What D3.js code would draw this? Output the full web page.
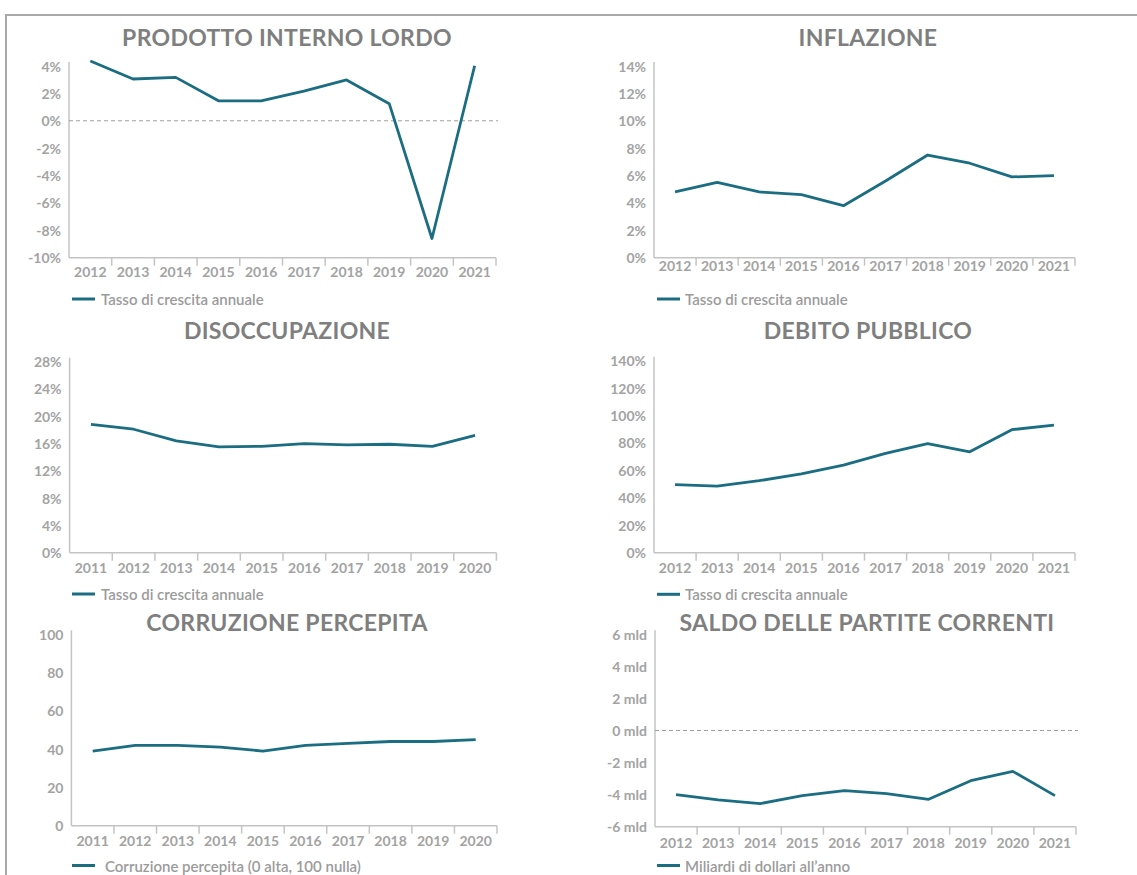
<!DOCTYPE html>
<html>
<head>
<meta charset="utf-8">
<script src="https://cdn.jsdelivr.net/npm/d3@7"></script>
<style>
  body { margin: 0; background: #fff; }
  text { font-family: Lato, "Open Sans", sans-serif; }
</style>
</head>
<body>
<svg id="chart"></svg>
<script>
// years on the x axis
var years12 = ["2012", "2013", "2014", "2015", "2016", "2017", "2018", "2019", "2020", "2021"];
var years11 = ["2011", "2012", "2013", "2014", "2015", "2016", "2017", "2018", "2019", "2020"];

// values
var pilValues    = [4.37, 3.05, 3.17, 1.46, 1.46, 2.17, 2.98, 1.25, -8.6, 4.02];
var inflValues   = [4.8, 5.5, 4.8, 4.6, 3.8, 5.6, 7.5, 6.9, 5.9, 6.0];
var disocValues  = [18.8, 18.1, 16.4, 15.5, 15.6, 16.0, 15.8, 15.9, 15.6, 17.2];
var debitoValues = [49.6, 48.6, 52.5, 57.4, 63.9, 72.4, 79.5, 73.6, 89.7, 93.1];
var corrValues   = [39, 42, 42, 41, 39, 42, 43, 44, 44, 45];
var saldoValues  = [-4.0, -4.33, -4.56, -4.06, -3.75, -3.94, -4.29, -3.13, -2.55, -4.06];

// tick values
var pilTicks    = [4, 2, 0, -2, -4, -6, -8, -10];
var inflTicks   = [14, 12, 10, 8, 6, 4, 2, 0];
var disocTicks  = [28, 24, 20, 16, 12, 8, 4, 0];
var debitoTicks = [140, 120, 100, 80, 60, 40, 20, 0];
var corrTicks   = [100, 80, 60, 40, 20, 0];
var saldoTicks  = [6, 4, 2, 0, -2, -4, -6];

var legendGrowth = "Tasso di crescita annuale";

var width = 1137, height = 875;
var lineColor = "#1b6d82";
var titleColor = "#7f7f7f";
var labelColor = "#a3a3a3";
var axisColor = "#c4c4c4";

var svg = d3.select("#chart")
    .attr("width", width)
    .attr("height", height);

// outer frame (top + left edges)
svg.append("path")
    .attr("d", `M6,${height} V15 H${width}`)
    .attr("fill", "none")
    .attr("stroke", "#a9a9a9")
    .attr("stroke-width", 2);

var pct = d => d + "%";
var mld = d => d + " mld";
var plain = d => d;

function panel(p) {
    var g = svg.append("g");

    var x = d3.scaleBand().domain(p.years).range([p.x0, p.x1]);
    var y = d3.scaleLinear()
        .domain([d3.min(p.ticks), d3.max(p.ticks)])
        .range([p.y1, p.y0]);

    // title
    g.append("text")
        .attr("x", p.titleX)
        .attr("y", p.titleY)
        .attr("text-anchor", "middle")
        .attr("dominant-baseline", "central")
        .style("font-size", "23px")
        .style("font-weight", "bold")
        .style("letter-spacing", "0.3px")
        .style("fill", titleColor)
        .text(p.title);

    // y axis line
    g.append("line")
        .attr("x1", p.x0).attr("x2", p.x0)
        .attr("y1", p.y0 - 4).attr("y2", p.y1)
        .attr("stroke", axisColor).attr("stroke-width", 1.5);

    // x axis line
    g.append("line")
        .attr("x1", p.x0).attr("x2", p.x1)
        .attr("y1", p.y1).attr("y2", p.y1)
        .attr("stroke", axisColor).attr("stroke-width", 1.5);

    // tick marks on band boundaries
    g.selectAll(".xtick")
        .data(p.years)
        .join("line")
        .attr("x1", d => x(d) + x.bandwidth())
        .attr("x2", d => x(d) + x.bandwidth())
        .attr("y1", p.y1)
        .attr("y2", p.y1 + 8)
        .attr("stroke", axisColor).attr("stroke-width", 1.5);

    // x labels
    g.selectAll(".xlab")
        .data(p.years)
        .join("text")
        .attr("x", d => x(d) + x.bandwidth() / 2)
        .attr("y", p.labelY)
        .attr("text-anchor", "middle")
        .attr("dominant-baseline", "central")
        .style("font-size", "14px")
        .style("font-weight", "bold")
        .style("fill", labelColor)
        .text(d => d);

    // y labels
    g.selectAll(".ylab")
        .data(p.ticks)
        .join("text")
        .attr("x", p.x0 - 8)
        .attr("y", d => y(d))
        .attr("text-anchor", "end")
        .attr("dominant-baseline", "central")
        .style("font-size", "14px")
        .style("font-weight", "bold")
        .style("fill", labelColor)
        .text(d => p.fmt(d));

    // dashed zero line
    if (p.zero) {
        g.append("line")
            .attr("x1", p.x0).attr("x2", p.x1 + 2)
            .attr("y1", y(0)).attr("y2", y(0))
            .attr("stroke", "#a0a0a0")
            .attr("stroke-width", 1)
            .attr("stroke-dasharray", "4,3");
    }

    // series
    var line = d3.line()
        .x((d, i) => x(p.years[i]) + x.bandwidth() / 2)
        .y(d => y(d));

    g.append("path")
        .datum(p.values)
        .attr("d", line)
        .attr("fill", "none")
        .attr("stroke", lineColor)
        .attr("stroke-width", 2.8)
        .attr("stroke-linejoin", "round");

    // legend
    g.append("line")
        .attr("x1", p.legendX).attr("x2", p.legendX + 23)
        .attr("y1", p.legendY).attr("y2", p.legendY)
        .attr("stroke", lineColor).attr("stroke-width", 3);

    g.append("text")
        .attr("x", p.legendX + p.legendGap)
        .attr("y", p.legendY)
        .attr("dominant-baseline", "central")
        .style("font-size", "15px")
        .style("font-weight", "600")
        .style("fill", "#9b9b9b")
        .text(p.legend);
}

panel({
    title: "PRODOTTO INTERNO LORDO", years: years12, values: pilValues, ticks: pilTicks, fmt: pct,
    legend: legendGrowth, zero: true,
    x0: 69, x1: 496, y0: 66, y1: 257.7,
    titleX: 287, titleY: 37, labelY: 271.5, legendX: 72, legendY: 299, legendGap: 29
});

panel({
    title: "INFLAZIONE", years: years12, values: inflValues, ticks: inflTicks, fmt: pct,
    legend: legendGrowth, zero: false,
    x0: 654, x1: 1075, y0: 66, y1: 257.7,
    titleX: 868, titleY: 37, labelY: 265.5, legendX: 657, legendY: 299, legendGap: 28
});

panel({
    title: "DISOCCUPAZIONE", years: years11, values: disocValues, ticks: disocTicks, fmt: pct,
    legend: legendGrowth, zero: false,
    x0: 69.6, x1: 496.4, y0: 361.7, y1: 552.7,
    titleX: 287, titleY: 330, labelY: 567.7, legendX: 72, legendY: 594, legendGap: 29
});

panel({
    title: "DEBITO PUBBLICO", years: years12, values: debitoValues, ticks: debitoTicks, fmt: pct,
    legend: legendGrowth, zero: false,
    x0: 654, x1: 1075, y0: 360.7, y1: 552.7,
    titleX: 868, titleY: 330, labelY: 567.7, legendX: 657, legendY: 594.3, legendGap: 28
});

panel({
    title: "CORRUZIONE PERCEPITA", years: years11, values: corrValues, ticks: corrTicks, fmt: plain,
    legend: "Corruzione percepita (0 alta, 100 nulla)", zero: false,
    x0: 71.4, x1: 497, y0: 634.3, y1: 825.7,
    titleX: 287, titleY: 621.7, labelY: 840, legendX: 72, legendY: 865.5, legendGap: 33
});

panel({
    title: "SALDO DELLE PARTITE CORRENTI", years: years12, values: saldoValues, ticks: saldoTicks, fmt: mld,
    legend: "Miliardi di dollari all\u2019anno", zero: true,
    x0: 655, x1: 1076, y0: 634.3, y1: 826.7,
    titleX: 867, titleY: 621.7, labelY: 842, legendX: 657, legendY: 865.5, legendGap: 28
});
</script>
</body>
</html>
